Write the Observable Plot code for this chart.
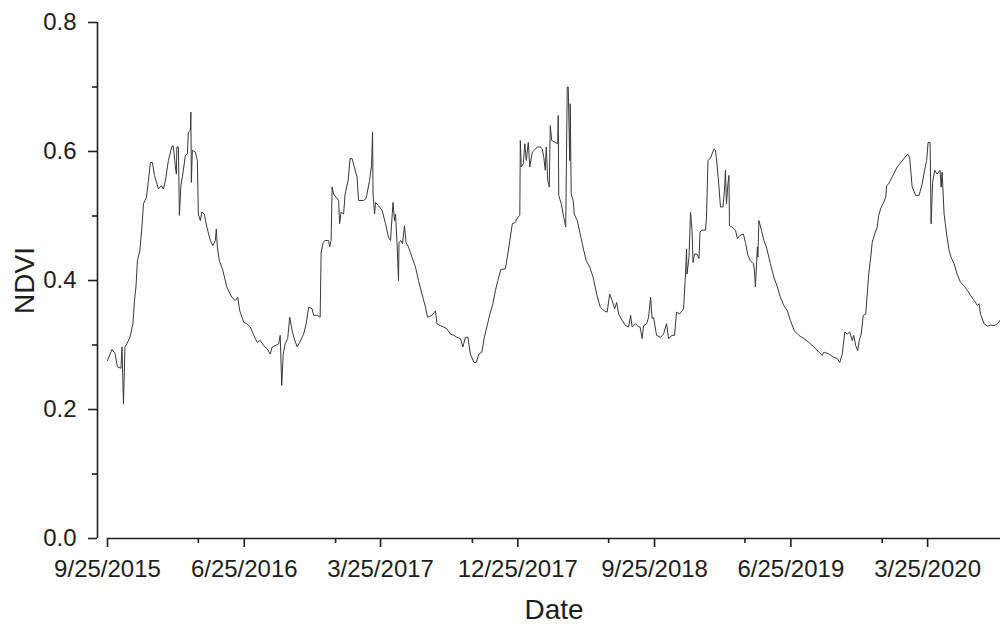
<!DOCTYPE html>
<html>
<head>
<meta charset="utf-8">
<script src="https://cdn.jsdelivr.net/npm/d3@7"></script>
<script src="https://cdn.jsdelivr.net/npm/@observablehq/plot@0.6"></script>
<style>
  html, body { margin: 0; padding: 0; background: #fff; }
  g[aria-label="x-axis label"] text, g[aria-label="y-axis label"] text { font-size: 28px; }
</style>
</head>
<body>
<div id="chart"></div>
<script>
const dates = [
"2015-09-25","2015-10-04","2015-10-10","2015-10-15","2015-10-22","2015-10-24","2015-10-27","2015-10-30","2015-11-03","2015-11-09",
"2015-11-15","2015-11-18","2015-11-21","2015-11-24","2015-11-29","2015-12-03","2015-12-06","2015-12-12","2015-12-16","2015-12-20",
"2015-12-24","2015-12-28","2016-01-02","2016-01-05","2016-01-11","2016-01-15","2016-01-19","2016-01-25","2016-02-01","2016-02-04",
"2016-02-08","2016-02-10","2016-02-11","2016-02-14","2016-02-16","2016-02-19","2016-02-24","2016-02-28","2016-03-03","2016-03-05",
"2016-03-09","2016-03-10","2016-03-11","2016-03-13","2016-03-19","2016-03-23","2016-03-25","2016-03-29","2016-04-01","2016-04-06",
"2016-04-11","2016-04-18","2016-04-23","2016-04-28","2016-04-30","2016-05-02","2016-05-06","2016-05-13","2016-05-21","2016-05-31",
"2016-06-07","2016-06-12","2016-06-16","2016-06-24","2016-06-30","2016-07-07","2016-07-14","2016-07-21","2016-07-27","2016-08-03",
"2016-08-10","2016-08-16","2016-08-20","2016-08-26","2016-09-02","2016-09-05","2016-09-08","2016-09-11","2016-09-15","2016-09-20",
"2016-09-24","2016-09-29","2016-10-03","2016-10-09","2016-10-14","2016-10-22","2016-10-27","2016-11-01","2016-11-08","2016-11-11",
"2016-11-18","2016-11-24","2016-11-26","2016-11-30","2016-12-04","2016-12-11","2016-12-13","2016-12-16","2016-12-18","2016-12-21",
"2016-12-26","2016-12-31","2017-01-02","2017-01-05","2017-01-10","2017-01-13","2017-01-19","2017-01-23","2017-01-27","2017-02-06",
"2017-02-09","2017-02-19","2017-02-24","2017-03-03","2017-03-07","2017-03-09","2017-03-10","2017-03-13","2017-03-15","2017-03-21",
"2017-03-28","2017-04-04","2017-04-10","2017-04-14","2017-04-17","2017-04-19","2017-04-22","2017-04-24","2017-04-27","2017-04-30",
"2017-05-01","2017-05-05","2017-05-08","2017-05-12","2017-05-15","2017-05-20","2017-05-27","2017-06-03","2017-06-09","2017-06-16",
"2017-06-23","2017-06-27","2017-07-06","2017-07-13","2017-07-16","2017-07-23","2017-07-29","2017-08-05","2017-08-12","2017-08-19",
"2017-08-25","2017-09-01","2017-09-06","2017-09-11","2017-09-16","2017-09-21","2017-09-28","2017-10-03","2017-10-08","2017-10-14",
"2017-10-19","2017-10-24","2017-10-30","2017-11-05","2017-11-10","2017-11-15","2017-11-21","2017-11-30","2017-12-04","2017-12-09",
"2017-12-14","2017-12-20","2017-12-25","2017-12-29","2017-12-30","2018-01-01","2018-01-05","2018-01-08","2018-01-11","2018-01-15",
"2018-01-18","2018-01-23","2018-01-27","2018-02-02","2018-02-08","2018-02-12","2018-02-15","2018-02-18","2018-02-20","2018-02-23",
"2018-02-26","2018-02-27","2018-02-28","2018-03-03","2018-03-10","2018-03-15","2018-03-16","2018-03-17","2018-03-22","2018-03-27",
"2018-03-31","2018-04-03","2018-04-05","2018-04-08","2018-04-09","2018-04-11","2018-04-15","2018-04-17","2018-04-23","2018-04-29",
"2018-05-06","2018-05-11","2018-05-18","2018-05-25","2018-06-01","2018-06-08","2018-06-16","2018-06-22","2018-06-27","2018-07-02",
"2018-07-07","2018-07-11","2018-07-15","2018-07-22","2018-07-29","2018-08-04","2018-08-08","2018-08-11","2018-08-18","2018-08-24",
"2018-08-27","2018-08-31","2018-09-03","2018-09-09","2018-09-13","2018-09-17","2018-09-20","2018-09-23","2018-09-29","2018-10-07",
"2018-10-13","2018-10-19","2018-10-23","2018-10-30","2018-11-04","2018-11-08","2018-11-14","2018-11-22","2018-11-26","2018-11-28",
"2018-11-29","2018-12-03","2018-12-06","2018-12-09","2018-12-11","2018-12-14","2018-12-19","2018-12-23","2018-12-25","2018-12-29",
"2019-01-05","2019-01-07","2019-01-10","2019-01-15","2019-01-18","2019-01-22","2019-01-25","2019-01-28","2019-02-01","2019-02-04",
"2019-02-09","2019-02-12","2019-02-14","2019-02-16","2019-02-19","2019-02-21","2019-02-22","2019-02-27","2019-03-06","2019-03-10",
"2019-03-15","2019-03-22","2019-03-26","2019-03-31","2019-04-05","2019-04-11","2019-04-13","2019-04-15","2019-04-19","2019-04-20",
"2019-04-22","2019-04-27","2019-05-02","2019-05-07","2019-05-15","2019-05-22","2019-05-29","2019-06-04","2019-06-11","2019-06-18",
"2019-06-24","2019-07-02","2019-07-11","2019-07-21","2019-07-31","2019-08-10","2019-08-20","2019-08-27","2019-08-30","2019-09-09",
"2019-09-19","2019-09-26","2019-10-01","2019-10-06","2019-10-11","2019-10-16","2019-10-21","2019-10-26","2019-10-29","2019-11-02",
"2019-11-06","2019-11-09","2019-11-13","2019-11-17","2019-11-22","2019-11-25","2019-11-28","2019-12-02","2019-12-05","2019-12-10",
"2019-12-15","2019-12-18","2019-12-23","2019-12-28","2020-01-01","2020-01-03","2020-01-07","2020-01-24","2020-02-14","2020-02-18",
"2020-02-23","2020-03-01","2020-03-08","2020-03-14","2020-03-19","2020-03-23","2020-03-26","2020-03-30","2020-04-01","2020-04-04",
"2020-04-08","2020-04-13","2020-04-19","2020-04-21","2020-04-23","2020-04-27","2020-05-02","2020-05-07","2020-05-11","2020-05-17",
"2020-05-23","2020-05-30","2020-06-06","2020-06-13","2020-06-19","2020-06-26","2020-07-03","2020-07-06","2020-07-09","2020-07-16",
"2020-07-23","2020-07-29","2020-08-05","2020-08-12","2020-08-17"
];
const ndvi = [
0.276,0.293,0.287,0.266,0.264,0.297,0.209,0.297,0.302,0.312,
0.333,0.369,0.390,0.431,0.447,0.483,0.519,0.529,0.555,0.583,
0.583,0.563,0.550,0.542,0.547,0.542,0.555,0.586,0.608,0.608,
0.576,0.565,0.607,0.607,0.501,0.547,0.571,0.594,0.596,0.630,
0.633,0.661,0.552,0.602,0.599,0.586,0.503,0.493,0.506,0.503,
0.483,0.462,0.454,0.462,0.480,0.452,0.431,0.416,0.390,0.374,
0.369,0.374,0.353,0.335,0.333,0.328,0.315,0.304,0.307,0.299,
0.294,0.286,0.297,0.299,0.302,0.315,0.237,0.286,0.302,0.310,
0.343,0.322,0.310,0.297,0.304,0.317,0.333,0.359,0.356,0.346,
0.346,0.343,0.444,0.459,0.462,0.462,0.452,0.462,0.545,0.534,
0.529,0.524,0.488,0.506,0.503,0.534,0.555,0.589,0.589,0.560,
0.524,0.524,0.527,0.555,0.578,0.630,0.534,0.503,0.521,0.516,
0.509,0.488,0.467,0.462,0.498,0.521,0.493,0.503,0.459,0.400,
0.459,0.462,0.457,0.485,0.459,0.452,0.436,0.421,0.400,0.379,
0.359,0.343,0.346,0.353,0.333,0.330,0.328,0.325,0.317,0.315,
0.312,0.310,0.297,0.312,0.312,0.286,0.273,0.273,0.286,0.289,
0.312,0.328,0.348,0.364,0.384,0.400,0.417,0.418,0.436,0.462,
0.488,0.490,0.498,0.501,0.617,0.576,0.581,0.612,0.586,0.614,
0.576,0.599,0.602,0.607,0.607,0.604,0.591,0.571,0.607,0.555,
0.545,0.591,0.640,0.617,0.614,0.612,0.656,0.532,0.519,0.498,
0.483,0.700,0.700,0.586,0.674,0.534,0.524,0.503,0.493,0.472,
0.447,0.431,0.421,0.405,0.379,0.359,0.353,0.351,0.379,0.369,
0.356,0.366,0.348,0.338,0.330,0.328,0.346,0.328,0.333,0.328,
0.328,0.310,0.330,0.333,0.343,0.374,0.341,0.343,0.315,0.312,
0.317,0.333,0.310,0.315,0.315,0.351,0.348,0.356,0.410,0.449,
0.410,0.436,0.506,0.478,0.428,0.441,0.441,0.434,0.475,0.478,
0.478,0.498,0.586,0.590,0.596,0.604,0.602,0.581,0.545,0.514,
0.514,0.540,0.571,0.519,0.550,0.563,0.485,0.483,0.478,0.465,
0.470,0.472,0.459,0.439,0.431,0.426,0.416,0.390,0.452,0.436,
0.493,0.478,0.462,0.452,0.426,0.405,0.390,0.374,0.361,0.353,
0.338,0.322,0.315,0.310,0.304,0.297,0.289,0.284,0.289,0.286,
0.281,0.279,0.273,0.286,0.320,0.317,0.320,0.307,0.315,0.299,
0.291,0.307,0.317,0.346,0.348,0.379,0.410,0.436,0.459,0.472,
0.483,0.501,0.514,0.521,0.529,0.547,0.550,0.576,0.596,0.591,
0.545,0.532,0.532,0.550,0.571,0.586,0.614,0.614,0.488,0.552,
0.571,0.565,0.571,0.545,0.568,0.503,0.472,0.447,0.436,0.426,
0.410,0.397,0.392,0.384,0.377,0.369,0.361,0.364,0.348,0.333,
0.329,0.331,0.330,0.333,0.338
];
const xTickDates = ["2015-09-25","2016-06-25","2017-03-25","2017-12-25","2018-09-25","2019-06-25","2020-03-25"];
const xMinorTickDates = ["2016-03-25","2016-12-25","2017-09-25","2018-06-25","2019-03-25","2019-12-25"];
const xDomain = ["2015-09-25","2020-08-18"];
const yTicks = [0, 0.2, 0.4, 0.6, 0.8];
const yMinorTicks = [0.1, 0.3, 0.5, 0.7];
const yDomain = [0, 0.8];
const xLabel = "Date";
const yLabel = "NDVI";

const parse = d3.utcParse("%Y-%m-%d");
const data = dates.map((d, i) => ({date: parse(d), ndvi: ndvi[i]}));
const ink = "#1e1e1e";
const blank = () => "";

const chart = Plot.plot({
  width: 1000,
  height: 626,
  marginTop: 22,
  marginBottom: 88,
  marginLeft: 107,
  marginRight: 0,
  style: {fontFamily: "'Liberation Sans', Arial, sans-serif", fontSize: "24px", color: ink, background: "#fff"},
  x: {type: "utc", domain: xDomain.map(parse)},
  y: {domain: yDomain},
  marks: [
    Plot.lineY(data, {x: "date", y: "ndvi", stroke: "#383838", strokeWidth: 1}),
    Plot.ruleY([yDomain[0]], {stroke: ink, strokeWidth: 1.6}),
    Plot.ruleX([parse(xDomain[0])], {y1: yDomain[0], y2: yDomain[1], dx: -10, stroke: ink, strokeWidth: 1.6}),
    Plot.axisX(xMinorTickDates.map(parse), {tickSize: 5, stroke: ink, strokeWidth: 1.6, tickFormat: blank, label: null}),
    Plot.axisX(xTickDates.map(parse), {
      tickSize: 9, tickPadding: 12, stroke: ink, strokeWidth: 1.6,
      tickFormat: d3.utcFormat("%-m/%-d/%Y"),
      label: xLabel, labelAnchor: "center", labelArrow: "none", labelOffset: 80
    }),
    Plot.axisY(yMinorTicks, {anchor: "left", dx: -10, tickSize: 5, stroke: ink, strokeWidth: 1.6, tickFormat: blank, label: null}),
    Plot.axisY(yTicks, {
      anchor: "left", dx: -10, tickSize: 9, tickPadding: 12, stroke: ink, strokeWidth: 1.6,
      tickFormat: d3.format(".1f"),
      label: yLabel, labelAnchor: "center", labelArrow: "none", labelOffset: 93
    })
  ]
});
document.getElementById("chart").appendChild(chart);
</script>
</body>
</html>
